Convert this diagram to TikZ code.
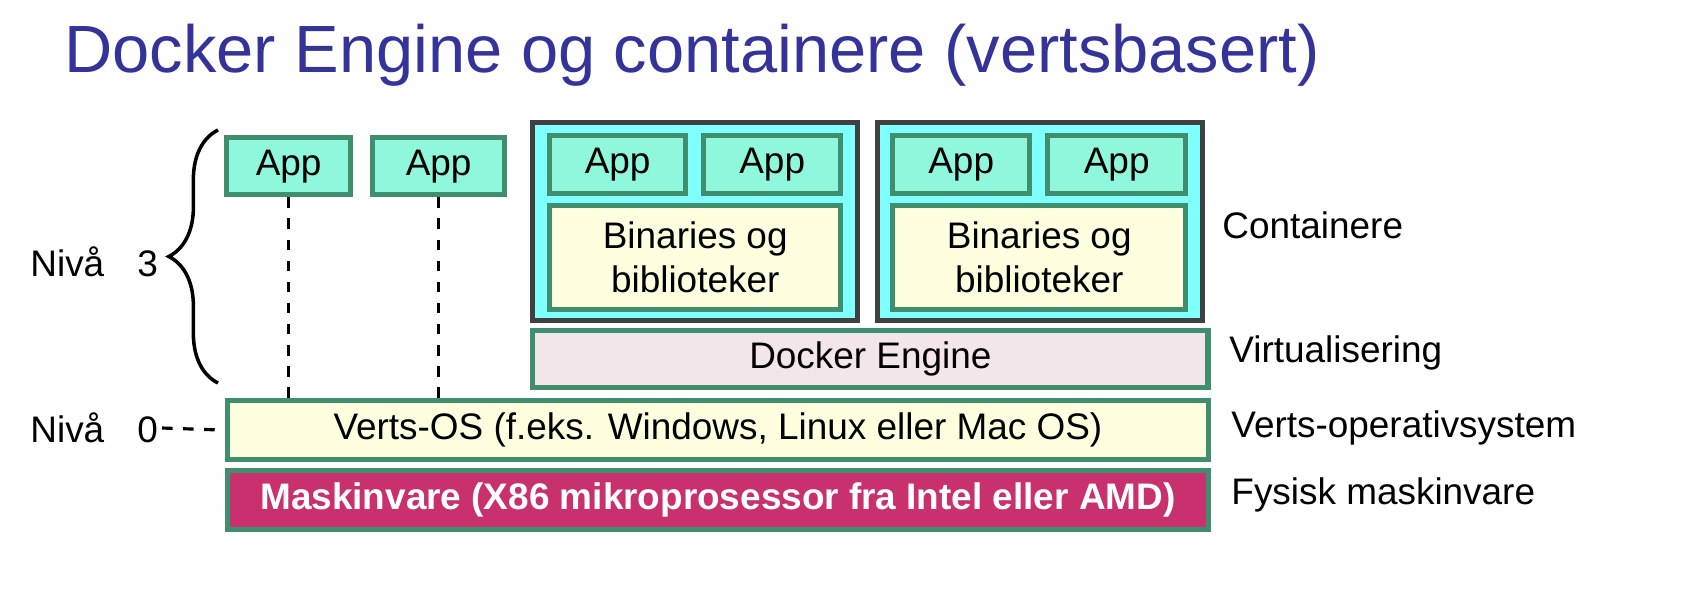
\documentclass[tikz,border=0pt]{standalone}
\usepackage{fontspec}
\setmainfont{Liberation Sans}
\usetikzlibrary{decorations.pathreplacing}
\definecolor{titleblue}{HTML}{333399}
\definecolor{appfill}{HTML}{8FF7DC}
\definecolor{gborder}{HTML}{3F8F6F}
\definecolor{cfill}{HTML}{80FFFF}
\definecolor{yfill}{HTML}{FFFFE0}
\definecolor{dfill}{HTML}{F3E6EA}
\definecolor{hwfill}{HTML}{C9306E}
\begin{document}
\begin{tikzpicture}[x=0.01cm,y=0.01cm,
  box/.style={draw=gborder,line width=1.5pt,anchor=north west,inner sep=0pt,font=\fontsize{10.5pt}{12.5pt}\selectfont,align=center},
  appbox/.style={box,fill=appfill},
  ybox/.style={box,fill=yfill},
  cont/.style={draw=black!75,line width=1.5pt,fill=cfill,anchor=north west,inner sep=0pt},
  lbl/.style={font=\fontsize{10.5pt}{12.5pt}\selectfont,anchor=west}]
\useasboundingbox (0,0) rectangle (1692,-594);
\node[anchor=base west,text=titleblue,font=\fontsize{19pt}{23pt}\selectfont] (title) at (52,-72) {Docker Engine og containere (vertsbasert)};
% apps
\node[appbox,minimum width=1.24cm,minimum height=0.57cm] (a1) at (224,-135) {App};
\node[appbox,minimum width=1.32cm,minimum height=0.57cm] (a2) at (370,-135) {App};
% containers
\node[cont,minimum width=3.25cm,minimum height=1.98cm] (c1) at (530,-120) {};
\node[appbox,minimum width=1.36cm,minimum height=0.58cm] (c1a) at (547,-133) {App};
\node[appbox,minimum width=1.37cm,minimum height=0.58cm] (c1b) at (701,-133) {App};
\node[ybox,minimum width=2.91cm,minimum height=1.04cm] (c1c) at (547,-203) {Binaries og\\biblioteker};
\node[cont,minimum width=3.25cm,minimum height=1.98cm] (c2) at (875,-120) {};
\node[appbox,minimum width=1.37cm,minimum height=0.58cm] (c2a) at (890,-133) {App};
\node[appbox,minimum width=1.38cm,minimum height=0.58cm] (c2b) at (1045,-133) {App};
\node[ybox,minimum width=2.93cm,minimum height=1.04cm] (c2c) at (890,-203) {Binaries og\\biblioteker};
% layers
\node[box,fill=dfill,minimum width=6.75cm,minimum height=0.57cm] (de) at (530,-328) {Docker Engine};
\node[ybox,minimum width=9.8cm,minimum height=0.59cm] (os) at (225,-398) {Verts-OS (f.eks. Windows, Linux eller Mac OS)};
\node[box,fill=hwfill,text=white,font=\fontsize{10.5pt}{12.5pt}\selectfont\bfseries,minimum width=9.8cm,minimum height=0.59cm] (hw) at (225,-468) {Maskinvare (X86 mikroprosessor fra Intel eller AMD)};
% dashed
\draw[dashed,line width=0.9pt] (a1.south) -- (a1.south |- os.north);
\draw[dashed,line width=0.9pt] (a2.south) -- (a2.south |- os.north);
% right labels
\node[lbl] (l1) at (1210,-225) {Containere};
\node[lbl] (l2) at (1217,-353) {Virtualisering};
\node[lbl] (l3) at (1219,-428) {Verts-operativsystem};
\node[lbl] (l4) at (1219,-495) {Fysisk maskinvare};
% left
\node[lbl] (n3) at (18,-262) {Nivå\hspace{0.9em}3};
\node[lbl] (n0) at (18,-428) {Nivå\hspace{0.9em}0};
\coordinate (d0) at (162,-428);
\draw[dashed,line width=0.9pt] (d0) -- (os.west);
\draw[decorate,decoration={brace,amplitude=14pt},line width=1pt] (218,-383) -- (218,-130);
\end{tikzpicture}
\end{document}
